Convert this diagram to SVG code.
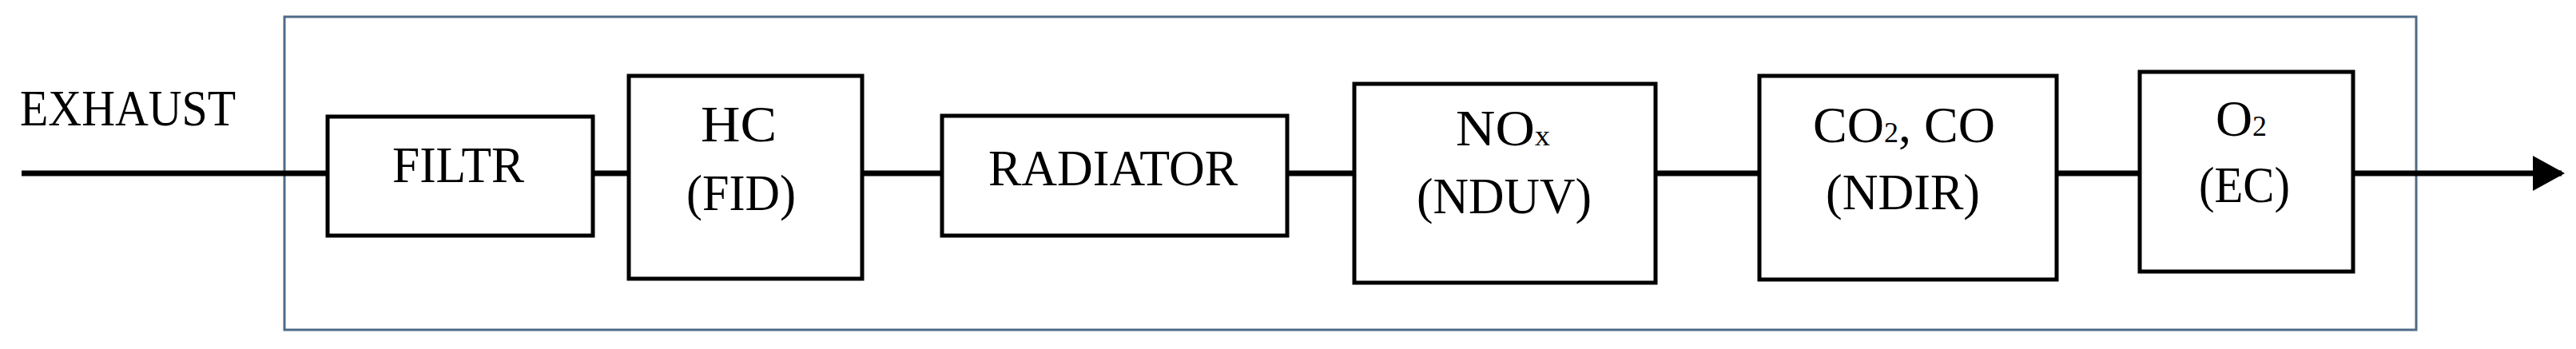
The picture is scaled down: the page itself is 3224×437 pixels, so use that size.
<svg xmlns="http://www.w3.org/2000/svg" width="3224" height="437" viewBox="0 0 3224 437">
<style>
.b{fill:#fff;stroke:#000;stroke-width:5}
.t{font-family:"Liberation Serif","DejaVu Serif",serif;font-size:64px;fill:#000}
.s{font-size:36px}
.c{stroke:#000;stroke-width:7;fill:none}
</style>
<defs><marker id="ah" markerUnits="userSpaceOnUse" markerWidth="40" markerHeight="44" refX="36" refY="22" orient="auto"><path d="M0,0 L40,22 L0,44 Z" fill="#000"/></marker></defs>
<rect id="frame" x="356" y="21" width="2668" height="392" fill="none" stroke="#4f6a87" stroke-width="3"/>
<g id="connectors">
<line class="c" x1="27" y1="217" x2="410" y2="217"/>
<line class="c" x1="742" y1="217" x2="787" y2="217"/>
<line class="c" x1="1079" y1="217" x2="1179" y2="217"/>
<line class="c" x1="1611" y1="217" x2="1695" y2="217"/>
<line class="c" x1="2072" y1="217" x2="2202" y2="217"/>
<line class="c" x1="2574" y1="217" x2="2678" y2="217"/>
<line class="c" x1="2945" y1="217" x2="3206" y2="217" marker-end="url(#ah)"/>
</g>
<text id="exhaust" class="t" x="25" y="157" textLength="270" lengthAdjust="spacingAndGlyphs">EXHAUST</text>
<g id="filtr"><rect class="b" x="410" y="146" width="332" height="149"/><text class="t" x="491" y="228" textLength="165" lengthAdjust="spacingAndGlyphs">FILTR</text></g>
<g id="hc"><rect class="b" x="787" y="95" width="292" height="254"/><text class="t" x="877" y="177" textLength="95" lengthAdjust="spacingAndGlyphs">HC</text><text class="t" x="859" y="263" textLength="137" lengthAdjust="spacingAndGlyphs">(FID)</text></g>
<g id="radiator"><rect class="b" x="1179" y="145" width="432" height="150"/><text class="t" x="1237" y="232" textLength="312" lengthAdjust="spacingAndGlyphs">RADIATOR</text></g>
<g id="nox"><rect class="b" x="1695" y="105" width="377" height="249"/><text class="t" x="1822" y="182" textLength="118" lengthAdjust="spacingAndGlyphs">NO<tspan class="s">x</tspan></text><text class="t" x="1773" y="267" textLength="219" lengthAdjust="spacingAndGlyphs">(NDUV)</text></g>
<g id="co2"><rect class="b" x="2202" y="95" width="372" height="255"/><text class="t" x="2269" y="178" textLength="228" lengthAdjust="spacingAndGlyphs">CO<tspan class="s">2</tspan>, CO</text><text class="t" x="2285" y="262" textLength="193" lengthAdjust="spacingAndGlyphs">(NDIR)</text></g>
<g id="o2"><rect class="b" x="2678" y="90" width="267" height="250"/><text class="t" x="2773" y="170" textLength="64" lengthAdjust="spacingAndGlyphs">O<tspan class="s">2</tspan></text><text class="t" x="2752" y="253" textLength="114" lengthAdjust="spacingAndGlyphs">(EC)</text></g>
</svg>
